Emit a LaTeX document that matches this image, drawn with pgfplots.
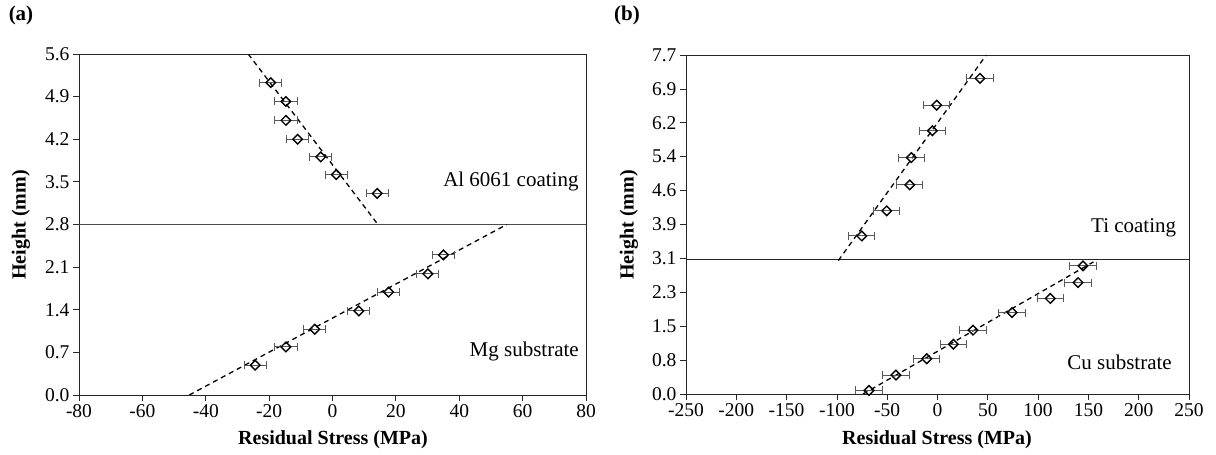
\documentclass[border=0pt]{standalone}
\usepackage{fontspec}
\setmainfont{Liberation Serif}
\usepackage{pgfplots}
\pgfplotsset{compat=1.18}

\pgfplotsset{
  panel/.style={
    scale only axis, anchor=south west,
    axis line style={black!85, line width=0.8pt},
    tick style={black!85, line width=0.8pt},
    tick align=outside, xtick pos=bottom, ytick pos=left,
    major tick length=6pt,
    ticklabel style={font=\fontsize{19.5}{21}\selectfont},
    /pgf/number format/assume math mode=true,
    xticklabel style={yshift=0pt},
  },
  pts/.style={
    only marks, mark=square, mark size=3.4pt,
    mark options={rotate=45, fill=white, line width=1.4pt, draw=black, solid},
    error bars/.cd, x dir=both, x explicit,
    error bar style={black!65, line width=1pt},
    error mark options={rotate=90, black!65, mark size=4pt, line width=1pt},
  },
  fit/.style={black, line width=1.3pt, dash pattern=on 5pt off 4pt},
}

\begin{document}
\begin{tikzpicture}[x=1pt, y=1pt]
\path[use as bounding box] (0,0) rectangle (1216,455);

% ---------- panel (a)
\begin{axis}[panel, at={(79pt,60pt)}, width=507pt, height=341pt,
    xmin=-80, xmax=80, ymin=0, ymax=5.6,
    xtick={-80,-60,...,80},
    ytick={0,0.7,1.4,2.1,2.8,3.5,4.2,4.9,5.6},
    yticklabels={0.0,0.7,1.4,2.1,2.8,3.5,4.2,4.9,5.6}]
  \addplot[black!70, line width=0.8pt] coordinates {(-80,2.8) (80,2.8)};
  % coating fit and data
  \addplot[fit] coordinates {(-26.6,5.6) (13.9,2.83)};
  \addplot[pts] coordinates {
    (-19.5,5.13) +- (3.5,0)
    (-14.7,4.82) +- (3.5,0)
    (-14.7,4.51) +- (3.5,0)
    (-11.0,4.20) +- (3.5,0)
    (-3.7,3.91)  +- (3.5,0)
    (1.2,3.62)   +- (3.5,0)
    (14.1,3.31)  +- (3.5,0)
  };
  % substrate fit and data
  \addplot[fit] coordinates {(-45.2,0) (55,2.8)};
  \addplot[pts] coordinates {
    (-24.4,0.49) +- (3.5,0)
    (-14.7,0.79) +- (3.5,0)
    (-5.6,1.08)  +- (3.5,0)
    (8.3,1.38)   +- (3.5,0)
    (17.7,1.69)  +- (3.5,0)
    (30.1,1.99)  +- (3.5,0)
    (35.0,2.30)  +- (3.5,0)
  };
  \node[font=\fontsize{21}{23}\selectfont] at (axis cs:56.3,3.51) {Al 6061 coating};
  \node[font=\fontsize{21}{23}\selectfont] at (axis cs:60.5,0.72) {Mg substrate};
\end{axis}

% ---------- panel (b)
\begin{axis}[panel, at={(686pt,61pt)}, width=503pt, height=339pt,
    xmin=-250, xmax=250, ymin=0, ymax=7.7,
    xtick={-250,-200,...,250},
    ytick={0,0.77,1.54,2.31,3.08,3.85,4.62,5.39,6.16,6.93,7.7},
    yticklabels={0.0,0.8,1.5,2.3,3.1,3.9,4.6,5.4,6.2,6.9,7.7}]
  \addplot[black!85, line width=0.8pt] coordinates {(-250,3.05) (250,3.05)};
  \addplot[fit] coordinates {(-98.6,3.03) (48.5,7.7)};
  \addplot[pts] coordinates {
    (42.2,7.17)  +- (13,0)
    (-0.8,6.56)  +- (13,0)
    (-5.1,5.98)  +- (13,0)
    (-26.0,5.37) +- (13,0)
    (-27.6,4.75) +- (13,0)
    (-50.5,4.16) +- (13,0)
    (-75.3,3.59) +- (13,0)
  };
  \addplot[fit] coordinates {(-74,0) (155,3.0)};
  \addplot[pts] coordinates {
    (-68.1,0.08) +- (13,0)
    (-41.3,0.43) +- (13,0)
    (-10.7,0.80) +- (13,0)
    (15.8,1.13)  +- (13,0)
    (35.3,1.45)  +- (13,0)
    (74.1,1.85)  +- (13,0)
    (112.1,2.17) +- (13,0)
    (139.7,2.53) +- (13,0)
    (144.6,2.91) +- (13,0)
  };
  \node[font=\fontsize{21}{23}\selectfont] at (axis cs:195,3.77) {Ti coating};
  \node[font=\fontsize{21}{23}\selectfont] at (axis cs:181,0.73) {Cu substrate};
\end{axis}

% ---------- titles and panel letters
\node[font=\bfseries\fontsize{20}{22}\selectfont] at (333,15) {Residual Stress (MPa)};
\node[font=\bfseries\fontsize{20}{22}\selectfont] at (937,15) {Residual Stress (MPa)};
\node[font=\bfseries\fontsize{20}{22}\selectfont, rotate=90] at (21,230) {Height (mm)};
\node[font=\bfseries\fontsize{20}{22}\selectfont, rotate=90] at (629,230) {Height (mm)};
\node[font=\bfseries\fontsize{21}{23}\selectfont] at (21,440) {(a)};
\node[font=\bfseries\fontsize{21}{23}\selectfont] at (627,440) {(b)};
\end{tikzpicture}
\end{document}
